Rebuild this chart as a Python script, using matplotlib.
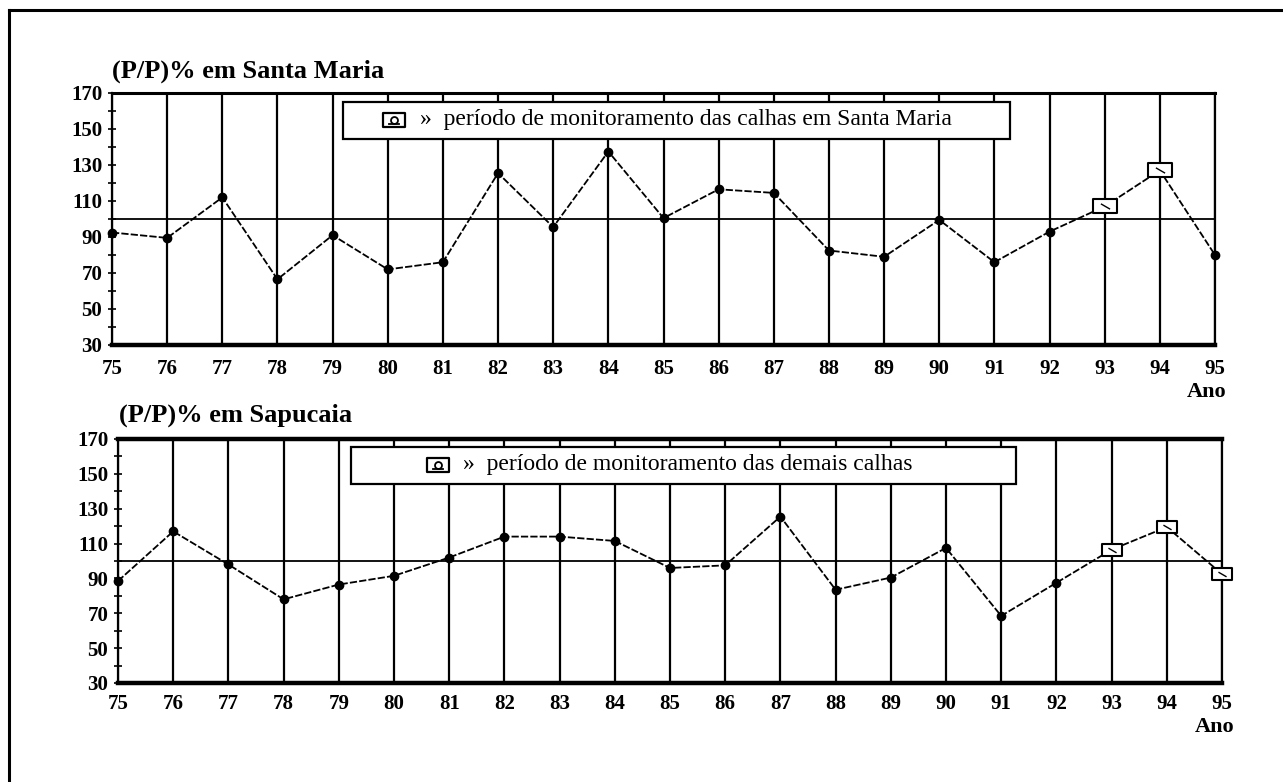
import matplotlib
matplotlib.use('Agg')
import matplotlib.pyplot as plt
from matplotlib.path import Path
from matplotlib.patches import Rectangle
from matplotlib.lines import Line2D

# ---------------- data ----------------
years = list(range(75, 96))
year_labels = [str(y) for y in years]
santa_maria = [92.5, 89.5, 112, 66.5, 91, 72, 76, 125.5, 95.5, 137.5, 100.5,
               116.5, 114.5, 82.5, 79, 99.5, 76, 93, 107, 127, 80]
sapucaia = [88.5, 117, 98, 78, 86.5, 91.5, 102, 114, 114, 111.5, 96,
            97.5, 125.5, 83.5, 90.5, 107.5, 68.5, 87.5, 106.5, 119.5, 92.5]
top_monitor_years = [93, 94]
bottom_monitor_years = [93, 94, 95]
reference_value = 100
y_major = [30, 50, 70, 90, 110, 130, 150, 170]
y_minor = [40, 60, 80, 100, 120, 140, 160]
top_title = "(P/P)% em Santa Maria"
bottom_title = "(P/P)% em Sapucaia"
top_legend = "»  período de monitoramento das calhas em Santa Maria"
bottom_legend = "»  período de monitoramento das demais calhas"
x_label = "Ano"

W, H = 1283, 782
fig = plt.figure(figsize=(W / 100, H / 100), dpi=100)
SERIF = ['Liberation Serif', 'DejaVu Serif']


def fx(x):
    return x / W


def fy(y):
    return 1 - y / H


def box_marker(aspect):
    verts = [(-aspect, -1), (aspect, -1), (aspect, 1), (-aspect, 1), (-aspect, -1)]
    codes = [Path.MOVETO, Path.LINETO, Path.LINETO, Path.LINETO, Path.CLOSEPOLY]
    return Path(verts, codes)


# figure frame (top and left edges visible)
fig.add_artist(Line2D([fx(9), fx(9)], [fy(10), fy(782)], color='black', lw=2.2,
                      transform=fig.transFigure))
fig.add_artist(Line2D([fx(9), fx(1283)], [fy(10), fy(10)], color='black', lw=2.2,
                      transform=fig.transFigure))


def make_panel(rect_px, values, monitor_years, box_aspect, box_size, top_lw,
               xpad, title, title_xy, legend_text, leg_rect, icon_xy, text_x, ano_xy):
    x0, y0, x1, y1 = rect_px
    ax = fig.add_axes([fx(x0), fy(y1), (x1 - x0) / W, (y1 - y0) / H])
    ax.set_xlim(years[0], years[-1])
    ax.set_ylim(30, 170)
    ax.set_xticks(years)
    ax.set_xticklabels(year_labels)
    ax.set_yticks(y_major)
    ax.set_yticks(y_minor, minor=True)
    ax.grid(axis='x', color='black', lw=1.6)
    ax.axhline(reference_value, color='black', lw=1.3, zorder=2)
    for lab in ax.get_xticklabels() + ax.get_yticklabels():
        lab.set_fontfamily(SERIF)
        lab.set_fontweight('bold')
        lab.set_fontsize(15)
    ax.tick_params(axis='x', length=0, pad=xpad)
    ax.tick_params(axis='y', which='both', direction='inout', length=6,
                   width=1.2, pad=4)
    ax.spines['left'].set_linewidth(1.6)
    ax.spines['right'].set_linewidth(1.6)
    ax.spines['bottom'].set_linewidth(3.2)
    ax.spines['top'].set_linewidth(top_lw)

    # series line
    ax.plot(years, values, color='black', lw=1.3, linestyle=(0, (4, 1.2)), zorder=4,
            clip_on=False)
    dot_x = [y for y in years if y not in monitor_years]
    dot_v = [v for y, v in zip(years, values) if y not in monitor_years]
    ax.plot(dot_x, dot_v, linestyle='none', marker='o', markersize=6,
            color='black', zorder=5, clip_on=False)
    box_x = [y for y in years if y in monitor_years]
    box_v = [v for y, v in zip(years, values) if y in monitor_years]
    ax.plot(box_x, box_v, linestyle='none', marker=box_marker(box_aspect),
            markersize=box_size, markerfacecolor='white', markeredgecolor='black',
            markeredgewidth=1.5, zorder=5, clip_on=False)
    ax.plot(box_x, box_v, linestyle='none', marker=(2, 0, 60), markersize=box_size * 0.45,
            color='black', markeredgewidth=1.0, zorder=6, clip_on=False)

    # title
    fig.text(fx(title_xy[0]), fy(title_xy[1]), title, family=SERIF, weight='bold',
             fontsize=19, ha='left', va='baseline')
    # x label
    fig.text(fx(ano_xy[0]), fy(ano_xy[1]), x_label, family=SERIF, weight='bold',
             fontsize=16, ha='center', va='center')

    # legend box
    lx0, ly0, lx1, ly1 = leg_rect
    fig.add_artist(Rectangle((fx(lx0), fy(ly1)), (lx1 - lx0) / W, (ly1 - ly0) / H,
                             transform=fig.transFigure, facecolor='white',
                             edgecolor='black', lw=1.6, zorder=10))
    icon = Line2D([fx(icon_xy[0])], [fy(icon_xy[1])], transform=fig.transFigure,
                  marker=box_marker(1.55), markersize=16, markerfacecolor='white',
                  markeredgecolor='black', markeredgewidth=1.6, linestyle='none',
                  zorder=11)
    fig.add_artist(icon)
    inner = Line2D([fx(icon_xy[0])], [fy(icon_xy[1])], transform=fig.transFigure,
                   marker='o', markersize=5, markerfacecolor='white',
                   markeredgecolor='black', markeredgewidth=1.3, linestyle='none',
                   zorder=12)
    fig.add_artist(inner)
    under = Line2D([fx(icon_xy[0] - 5), fx(icon_xy[0] + 5)],
                   [fy(icon_xy[1] + 4), fy(icon_xy[1] + 4)], transform=fig.transFigure,
                   color='black', lw=1.3, zorder=12)
    fig.add_artist(under)
    fig.text(fx(text_x), fy(icon_xy[1]), legend_text, family=SERIF, fontsize=17,
             ha='left', va='center', zorder=12)
    return ax


make_panel((112, 93, 1215, 345), santa_maria, top_monitor_years, 1.75, 17, 2.2,
           10, top_title, (112, 78), top_legend, (343, 102, 1010, 139), (394, 120), 420,
           (1207, 392))
make_panel((118, 439, 1222, 683), sapucaia, bottom_monitor_years, 1.75, 15, 3.2,
           8, bottom_title, (119, 422), bottom_legend, (351, 447, 1016, 484), (438, 465), 463,
           (1215, 727))

fig.savefig('out.png', dpi=100, facecolor='white')
